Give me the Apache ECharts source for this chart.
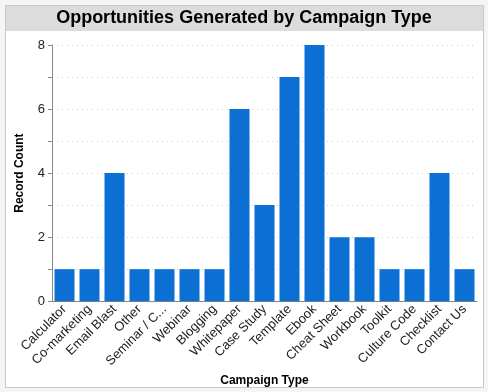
<!DOCTYPE html>
<html><head><meta charset="utf-8">
<script src="https://cdn.jsdelivr.net/npm/echarts@6/dist/echarts.min.js"></script>
<style>html,body{margin:0;padding:0;background:#f5f5f5;}#c{width:488px;height:392px;}</style>
</head><body><div id="c"></div>
<script>
const categories = ["Calculator","Co-marketing","Email Blast","Other","Seminar / C...","Webinar","Blogging","Whitepaper","Case Study","Template","Ebook","Cheat Sheet","Workbook","Toolkit","Culture Code","Checklist","Contact Us"];
const recordCount = [1,1,4,1,1,1,1,6,3,7,8,2,2,1,1,4,1];
const yTicks = [0,2,4,6,8];

const chart = echarts.init(document.getElementById('c'), null, {renderer:'canvas'});
const font = 'Arial, "Liberation Sans", sans-serif';
chart.setOption({
  animation:false,
  backgroundColor:'#f5f5f5',
  graphic:[
    {type:'rect', shape:{x:5.5,y:5.5,width:478,height:382}, style:{fill:'#ffffff',stroke:'#c8c8c8',lineWidth:1}, z:-10},
    {type:'rect', shape:{x:6,y:6,width:477,height:25}, style:{fill:'#dcdcdc'}, z:-9},
    {type:'text', left:'center', top:9, style:{text:'Opportunities Generated by Campaign Type', font:'bold 18px '+font, fill:'#000'}, z:10}
  ],
  grid:{left:52, right:11, top:45, bottom:89},
  xAxis:{
    type:'category', data:categories,
    name:'Campaign Type', nameLocation:'middle', nameGap:65,
    nameTextStyle:{fontWeight:'bold', fontSize:12, color:'#000', fontFamily:font},
    axisLine:{lineStyle:{color:'#888'}},
    axisTick:{alignWithLabel:true, lineStyle:{color:'#888'}, length:4},
    axisLabel:{rotate:45, interval:0, fontSize:13, color:'#222', fontFamily:font, margin:6}
  },
  yAxis:{
    type:'value', min:0, max:8, interval:1,
    name:'Record Count', nameLocation:'middle', nameGap:26,
    nameTextStyle:{fontWeight:'bold', fontSize:12, color:'#000', fontFamily:font},
    axisLine:{show:true, lineStyle:{color:'#888'}},
    axisTick:{show:true, lineStyle:{color:'#888'}, length:4},
    axisLabel:{fontSize:13, color:'#222', fontFamily:font, margin:7, formatter:v=> yTicks.includes(v)? String(v):''},
    splitLine:{show:true, lineStyle:{color:'#cccccc', type:[1,4]}}
  },
  series:[{type:'bar', data:recordCount, barWidth:20, itemStyle:{color:'#0b6fd3'}}]
});
</script></body></html>
